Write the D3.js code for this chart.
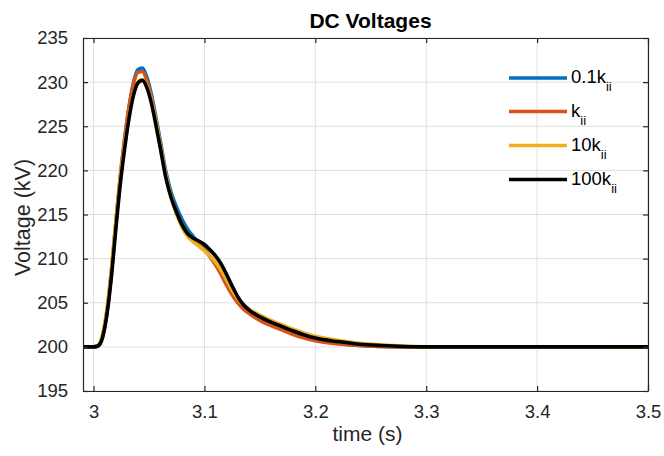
<!DOCTYPE html>
<html>
<head>
<meta charset="utf-8">
<script src="https://cdn.jsdelivr.net/npm/d3@7"></script>
<style>
  html, body { margin: 0; padding: 0; background: #fff; }
  text { font-family: "Liberation Sans", Arial, Helvetica, sans-serif; fill: #262626; }
</style>
</head>
<body>
<svg id="chart" width="664" height="456"></svg>
<script>
// ---- data ----
const time = [2.99, 3.0, 3.004, 3.008, 3.012, 3.016, 3.02, 3.024, 3.028, 3.032, 3.036, 3.04, 3.044, 3.048, 3.052, 3.056, 3.06, 3.065, 3.07, 3.075, 3.08, 3.085, 3.09, 3.095, 3.1, 3.105, 3.11, 3.115, 3.12, 3.125, 3.13, 3.135, 3.14, 3.15, 3.16, 3.17, 3.18, 3.19, 3.2, 3.22, 3.24, 3.26, 3.28, 3.3, 3.5];

const v01k = [200, 200, 200.1, 201.1, 203.8, 208.2, 213.7, 219.0, 223.4, 227.1, 229.9, 231.4, 231.6, 230.6, 228.7, 226.2, 223.5, 220.0, 217.5, 215.8, 214.4, 213.3, 212.5, 211.8, 211.1, 210.3, 209.4, 208.3, 207.1, 206.0, 205.1, 204.4, 203.9, 203.1, 202.5, 202.0, 201.5, 201.1, 200.8, 200.4, 200.15, 200.05, 200.0, 200, 200];
const v1k  = [200, 200, 200.15, 201.2, 204.0, 208.5, 214.0, 219.3, 223.6, 227.2, 229.8, 231.1, 231.2, 230.2, 228.3, 225.8, 223.0, 219.5, 217.0, 215.1, 213.8, 212.8, 212.1, 211.6, 211.0, 210.2, 209.3, 208.2, 207.0, 205.9, 205.0, 204.3, 203.8, 203.0, 202.4, 201.9, 201.4, 201.0, 200.7, 200.35, 200.15, 200.05, 200.0, 200, 200];
const v10k = [200, 200, 200.15, 201.3, 204.2, 208.6, 213.9, 218.9, 222.8, 226.1, 228.6, 230.0, 230.3, 229.6, 228.0, 225.7, 223.0, 219.6, 217.0, 215.0, 213.5, 212.5, 211.9, 211.4, 210.9, 210.3, 209.6, 208.7, 207.6, 206.4, 205.5, 204.8, 204.3, 203.6, 203.0, 202.5, 202.0, 201.55, 201.2, 200.75, 200.4, 200.2, 200.08, 200.02, 200];
const v100k = [200, 200, 200.1, 201.0, 203.6, 207.8, 213.2, 218.3, 222.4, 225.9, 228.5, 229.9, 230.2, 229.4, 227.7, 225.3, 222.7, 219.3, 216.9, 215.2, 213.8, 212.8, 212.3, 212.0, 211.6, 211.0, 210.3, 209.4, 208.2, 206.9, 205.7, 204.8, 204.2, 203.4, 202.8, 202.3, 201.8, 201.35, 201.0, 200.6, 200.3, 200.15, 200.05, 200, 200];

const seriesNames = ["0.1k", "k", "10k", "100k"];
const seriesValues = [v01k, v1k, v10k, v100k];
const seriesColors = ["#0072BD", "#D95319", "#EDB120", "#000000"];

const xTicks = [3, 3.1, 3.2, 3.3, 3.4, 3.5];
const xTickLabels = ["3", "3.1", "3.2", "3.3", "3.4", "3.5"];
const yTicks = [195, 200, 205, 210, 215, 220, 225, 230, 235];
const yTickLabels = ["195", "200", "205", "210", "215", "220", "225", "230", "235"];

// ---- layout ----
const W = 664, H = 456;
const margin = { left: 83, top: 38, right: 16, bottom: 65 };
const pw = W - margin.left - margin.right;
const ph = H - margin.top - margin.bottom;

const svg = d3.select("#chart");
const x = d3.scaleLinear().domain([2.9905, 3.5]).range([0, pw]);
const y = d3.scaleLinear().domain([195, 235]).range([ph, 0]);

const g = svg.append("g").attr("transform", `translate(${margin.left},${margin.top})`);

// grid
g.append("g").selectAll("line").data(xTicks).join("line")
  .attr("x1", d => x(d)).attr("x2", d => x(d)).attr("y1", 0).attr("y2", ph)
  .attr("stroke", "#dfdfdf").attr("stroke-width", 1);
g.append("g").selectAll("line").data(yTicks).join("line")
  .attr("y1", d => y(d)).attr("y2", d => y(d)).attr("x1", 0).attr("x2", pw)
  .attr("stroke", "#dfdfdf").attr("stroke-width", 1);

// clip
svg.append("defs").append("clipPath").attr("id", "clip")
  .append("rect").attr("x", 0).attr("y", 0).attr("width", pw).attr("height", ph);

const line = d3.line().x(d => x(d[0])).y(d => y(d[1])).curve(d3.curveMonotoneX);
const lines = g.append("g").attr("clip-path", "url(#clip)");
seriesValues.forEach((vals, i) => {
  lines.append("path")
    .datum(time.map((t, k) => [t, vals[k]]))
    .attr("d", line)
    .attr("fill", "none")
    .attr("stroke", seriesColors[i])
    .attr("stroke-width", 3.6)
    .attr("stroke-linejoin", "round");
});

// axes (box with inward ticks on all sides)
const axisColor = "#262626";
const fmtX = (d) => xTickLabels[xTicks.indexOf(d)];
const fmtY = (d) => yTickLabels[yTicks.indexOf(d)];

const xAxis = g.append("g").attr("transform", `translate(0,${ph})`)
  .call(d3.axisBottom(x).tickValues(xTicks).tickFormat(fmtX).tickSizeInner(-5).tickSizeOuter(0).tickPadding(14));
const xAxisTop = g.append("g")
  .call(d3.axisTop(x).tickValues(xTicks).tickFormat("").tickSizeInner(-5).tickSizeOuter(0));
const yAxis = g.append("g")
  .call(d3.axisLeft(y).tickValues(yTicks).tickFormat(fmtY).tickSizeInner(-5).tickSizeOuter(0).tickPadding(15));
const yAxisRight = g.append("g").attr("transform", `translate(${pw},0)`)
  .call(d3.axisRight(y).tickValues(yTicks).tickFormat("").tickSizeInner(-5).tickSizeOuter(0));

[xAxis, xAxisTop, yAxis, yAxisRight].forEach(a => {
  a.select(".domain").attr("stroke", axisColor).attr("stroke-width", 1.2);
  a.selectAll(".tick line").attr("stroke", axisColor).attr("stroke-width", 1.2);
  a.selectAll(".tick text").attr("fill", axisColor)
    .style("font-family", "'Liberation Sans', Arial, Helvetica, sans-serif")
    .style("font-size", "18.5px");
});

// title & labels
svg.append("text").attr("x", margin.left + pw / 2 + 5).attr("y", 28)
  .attr("text-anchor", "middle").style("font-size", "21px").style("font-weight", "bold")
  .style("fill", "#000")
  .text("DC Voltages");
svg.append("text").attr("x", margin.left + pw / 2 + 2).attr("y", 441)
  .attr("text-anchor", "middle").style("font-size", "21px")
  .text("time (s)");
svg.append("text").attr("transform", `translate(29.5,${margin.top + ph / 2 + 3}) rotate(-90)`)
  .attr("text-anchor", "middle").style("font-size", "21.5px")
  .text("Voltage (kV)");

// legend
const legendY = [78, 111.5, 145.5, 179.5];
const leg = svg.append("g");
seriesNames.forEach((name, i) => {
  leg.append("line").attr("x1", 509).attr("x2", 567)
    .attr("y1", legendY[i]).attr("y2", legendY[i])
    .attr("stroke", seriesColors[i]).attr("stroke-width", 3.4);
  const t = leg.append("text").attr("x", 571).attr("y", legendY[i] + 5)
    .style("font-size", "18.5px").style("fill", "#000");
  t.append("tspan").text(name);
  t.append("tspan").attr("dy", 8).style("font-size", "13px").text("ii");
});
</script>
</body>
</html>
